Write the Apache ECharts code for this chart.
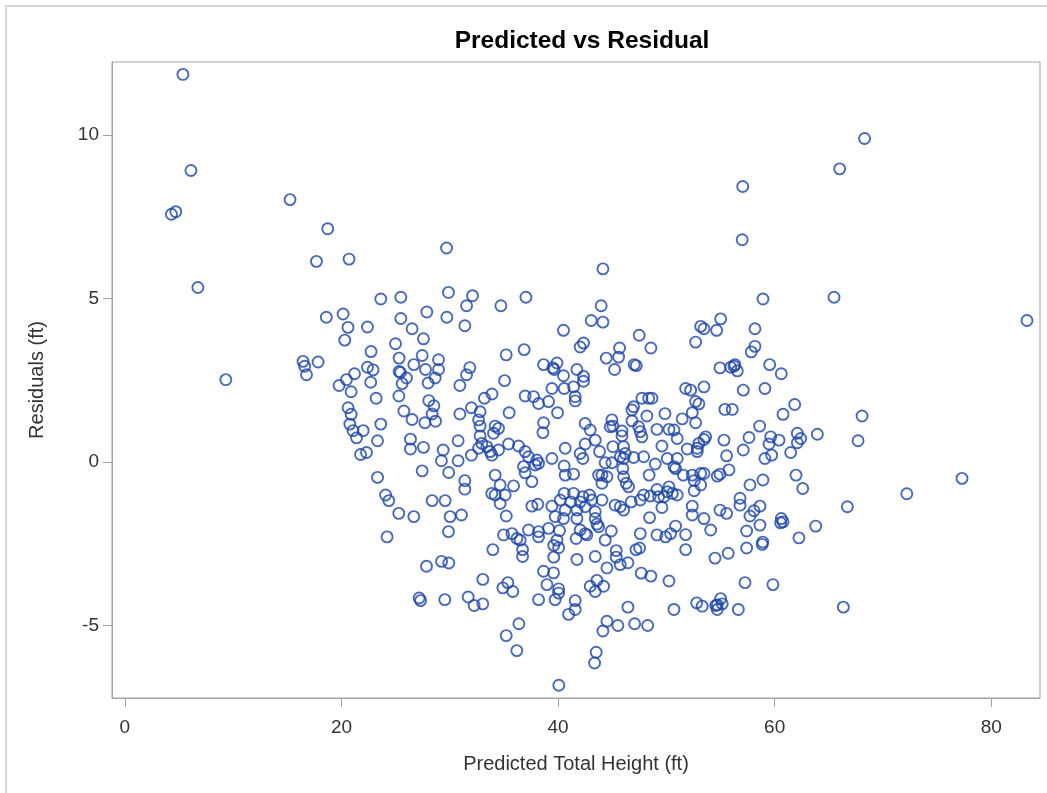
<!DOCTYPE html>
<html>
<head>
<meta charset="utf-8">
<script src="https://cdn.jsdelivr.net/npm/echarts@6/dist/echarts.min.js"></script>
<style>
html,body{margin:0;padding:0;background:#fff;}
#chart{width:1047px;height:793px;}
</style>
</head>
<body>
<div id="chart"></div>
<script>
const titleText = 'Predicted vs Residual';
const xAxisName = 'Predicted Total Height (ft)';
const yAxisName = 'Residuals (ft)';
const xTicks = [0, 20, 40, 60, 80];
const yTicks = [-5, 0, 5, 10];

// [predicted total height, residual]
const pointsLeft = [
 [5.36,11.86],[6.1,8.92],[4.3,7.58],[4.7,7.66],[6.74,5.34],[9.32,2.52],[15.25,8.03],[18.73,7.14],[17.69,6.14],[20.70,6.21],[29.7,6.55]
];
const pointsA = [
 [23.63,4.99],[25.48,5.04],[29.88,5.19],[32.1,5.09],[31.55,4.78],[18.6,4.43],[20.15,4.53],[20.6,4.12],[22.4,4.13],[20.3,3.73],
 [25.48,4.39],[27.88,4.59],[29.73,4.43],[31.39,4.17],[26.52,4.08],[27.57,3.77],[24.99,3.62],[22.73,3.38],[25.32,3.18],[27.45,3.26],
 [28.96,3.13],[26.68,2.98],[16.45,3.08],[16.6,2.93],[16.77,2.67],[17.84,3.06],[22.4,2.9],[22.92,2.82],[25.32,2.77],[25.45,2.74],
 [27.76,2.83],[28.96,2.83],[31.85,2.89],[31.55,2.67],[21.2,2.70],[20.46,2.52],[19.78,2.34],[22.7,2.44],[26.0,2.57],[25.6,2.40],
 [28.65,2.57],[28.0,2.42],[30.93,2.34]
];
const pointsB = [
 [20.89,2.15],[23.2,1.95],[25.3,2.02],[20.61,1.66],[20.89,1.46],[20.77,1.16],[21.07,0.96],[21.39,0.74],[22.0,0.96],[23.63,1.16],
 [23.33,0.65],[21.76,0.23],[22.31,0.29],[25.76,1.56],[26.52,1.30],[28.06,1.88],[28.53,1.72],[28.37,1.47],[27.7,1.20],[28.68,1.25],
 [30.93,1.47],[32.0,1.66],[26.37,0.70],[26.37,0.40],[27.57,0.45],[30.77,0.65],[29.39,0.37],[29.23,0.04],[30.77,0.04],[32.0,0.21],
 [27.45,-0.27],[29.9,-0.32],[23.33,-0.47],[31.39,-0.57],[31.39,-0.83],[24.07,-1.01],[24.37,-1.18],[28.37,-1.18],[29.57,-1.18],[25.29,-1.57],
 [26.68,-1.67],[30.03,-1.67],[31.08,-1.62],[24.21,-2.29],[29.88,-2.13],
 [27.85,-3.19],[29.24,-3.04],[29.91,-3.09],[27.17,-4.16],[27.3,-4.24],[29.54,-4.21],[31.7,-4.13],[32.25,-4.39]
];
const pointsC = [
 [33.98,-2.68],[36.72,-2.68],[36.72,-2.89],[39.6,-2.55],[40.05,-2.62],[39.6,-2.91],[41.74,-2.98],[43.43,-2.89],[45.37,-2.71],[45.37,-2.91],
 [45.74,-3.14],[46.45,-3.08],[47.19,-2.68],[47.53,-2.63],[44.51,-3.24],[47.68,-3.40],[48.57,-3.49],[33.05,-3.59],[34.9,-3.85],[35.36,-3.69],
 [35.82,-3.96],[33.05,-4.34],[38.66,-3.34],[39.58,-3.39],[38.97,-3.75],[40.05,-3.88],[40.05,-4.01],[38.2,-4.21],[39.73,-4.21],[41.58,-4.24],
 [41.58,-4.51],[40.97,-4.66],[42.97,-3.80],[43.59,-3.62],[44.2,-3.80],[43.43,-3.96],[46.45,-4.44],[44.51,-4.87],[44.14,-5.17],[45.52,-5.0],
 [47.07,-4.95],[48.27,-5.0],[36.38,-4.95],[35.21,-5.31],[36.19,-5.77],[43.52,-5.82],[43.37,-6.15],[40.07,-6.83],
 [51.78,-2.68],[54.49,-2.94],[55.71,-2.79],[50.24,-3.64],[57.26,-3.69],[59.84,-3.75],[50.7,-4.51],[52.8,-4.31],[53.31,-4.41],[55.01,-4.18],
 [54.7,-4.37],[55.16,-4.34],[54.7,-4.51],[54.55,-4.39],[56.64,-4.51],[66.34,-4.44],[57.41,-2.63]
];
const pointsD = [
 [34.72,4.78],[37.03,5.04],[44.14,5.91],[43.98,4.78],[43.06,4.33],[44.14,4.28],[40.5,4.03],[47.49,3.88],[48.57,3.49],[42.35,3.64],
 [42.04,3.52],[45.68,3.49],[44.45,3.18],[45.59,3.21],[47.03,2.98],[47.22,2.95],[45.22,2.83],[35.21,3.28],[36.87,3.44],[35.06,2.49],
 [38.66,2.98],[39.9,3.03],[39.52,2.88],[39.64,2.83],[40.5,2.64],[41.74,2.83],[42.35,2.62],[42.35,2.47],
 [57.0,6.80],[58.92,4.99],[65.48,5.04],[55.01,4.38],[53.17,4.15],[53.47,4.08],[54.64,4.03],[58.18,4.08],[52.7,3.67],[58.18,3.54],
 [57.84,3.37],[54.95,2.88],[55.94,2.9],[56.33,2.98],[56.55,2.79],[56.24,2.93],[59.54,2.98],[60.61,2.70],
 [57.05,8.43],[66.0,8.97],[68.3,9.9]
];
const pointsE = [
 [51.78,2.25],[52.24,2.20],[53.47,2.3],[57.1,2.20],[59.1,2.25],[52.7,1.85],[53.0,1.78],[55.4,1.61],[56.08,1.61],[60.77,1.46],
 [61.85,1.76],[49.87,1.48],[52.39,1.51],[51.46,1.32],[52.7,1.20],[50.24,1.0],[50.7,0.98],[51.0,0.72],[53.63,0.77],[53.47,0.69],
 [53.0,0.57],[55.32,0.67],[57.63,0.75],[58.61,1.10],[59.63,0.77],[60.4,0.67],[59.48,0.55],[62.09,0.88],[62.4,0.72],[62.09,0.59],
 [63.94,0.85],[61.48,0.29],[59.72,0.21],[59.1,0.11],[57.1,0.37],[55.56,0.19],[51.93,0.40],[52.85,0.42],[52.85,0.32],[50.08,0.11],
 [51.0,0.11],[50.7,-0.14],[50.85,-0.20],[51.56,-0.40],[52.39,-0.40],[53.17,-0.35],[53.47,-0.35],[52.57,-0.57],[54.7,-0.43],[54.95,-0.37],
 [55.78,-0.24],[57.72,-0.70],[58.92,-0.55],[61.97,-0.40],[62.59,-0.81],[66.71,-1.37],[50.24,-0.76],[50.55,-0.96],[51.0,-1.01],[49.78,-1.06],
 [50.08,-0.91],[52.57,-0.88],[53.17,-0.70],[52.39,-1.35],[52.39,-1.62],[53.47,-1.73],[54.09,-2.08],[54.95,-1.47],[55.56,-1.57],[56.8,-1.11],
 [56.8,-1.32],[57.72,-1.65],[58.09,-1.49],[58.64,-1.35],[58.64,-1.93],[57.41,-2.11],[60.61,-1.73],[60.77,-1.83],[60.55,-1.86],[63.79,-1.96],
 [62.24,-2.32],[50.85,-1.96],[50.39,-2.19],[51.78,-2.22],[49.93,-2.29],[58.9,-2.45],[58.85,-2.52]
];
const pointsF = [
 [33.2,1.95],[33.9,2.08],[36.96,2.02],[37.74,2.0],[38.2,1.79],[39.12,1.85],[39.43,2.25],[40.56,2.25],[41.43,2.3],[41.58,2.0],
 [41.58,1.87],[47.74,1.95],[48.36,1.95],[48.67,1.95],[46.97,1.69],[46.82,1.59],[48.2,1.41],[32.8,1.54],[32.66,1.29],[35.48,1.51],
 [39.95,1.51],[38.66,1.20],[38.6,0.90],[32.8,1.10],[34.19,1.10],[34.5,1.03],[34.04,0.88],[42.5,1.18],[42.97,0.98],[44.97,1.29],
 [45.06,1.10],[44.81,1.08],[45.9,0.95],[45.9,0.80],[46.82,1.26],[47.44,1.08],[47.59,0.93],[47.74,0.77],[49.13,1.0],[49.59,0.49],
 [32.8,0.80],[32.96,0.57],[32.66,0.42],[33.42,0.47],[33.73,0.32],[33.88,0.21],[34.5,0.37],[35.43,0.55],[36.35,0.49],[36.96,0.32],
 [37.27,0.16],[38.04,0.06],[38.2,-0.04],[37.89,-0.09],[36.81,-0.14],[36.96,-0.33],[39.43,0.11],[40.66,0.42],[40.56,-0.12],[41.43,-0.37],
 [40.66,-0.40],[42.04,0.26],[42.29,0.11],[42.5,0.55],[43.43,0.67],[43.83,0.32],[44.35,-0.02],[44.97,-0.02],[45.06,0.47],[46.05,0.47],
 [46.2,0.26],[45.74,0.16],[46.05,0.11],[46.97,0.14],[47.9,0.16],[48.97,-0.06],[45.98,-0.20],[46.05,-0.45],[46.29,-0.65],[48.41,-0.40],
 [43.74,-0.40],[44.05,-0.40],[44.51,-0.45],[44.05,-0.65],[46.51,-0.76],[49.13,-0.84],[34.19,-0.40],[35.89,-0.73],[34.65,-0.70],[33.88,-0.96],
 [34.19,-1.01],[35.11,-1.01],[34.65,-1.27],[37.58,-0.60],[35.21,-1.65],[37.58,-1.35],[38.13,-1.29],[39.43,-1.35],[40.2,-1.16],[40.56,-0.96],
 [41.43,-0.96],[39.73,-1.67],[40.5,-1.73],[40.66,-1.47],[41.18,-1.22],[42.04,-1.22],[41.74,-1.47],[42.29,-1.06],[42.9,-1.01],[43.12,-1.16],
 [42.5,-1.37],[43.43,-1.52],[43.43,-1.73],[44.05,-1.16],[41.74,-1.73],[45.27,-1.32],[45.74,-1.37],[46.05,-1.47],[46.76,-1.22],[47.59,-1.16],
 [47.9,-1.01],[48.51,-1.04],[49.28,-1.06],[48.45,-1.70],[49.59,-1.39],[43.59,-1.90],[43.74,-1.98],[44.91,-2.11],[47.59,-2.19],[49.13,-2.23],
 [42.04,-2.08],[42.5,-2.19],[42.66,-2.23],[39.12,-2.03],[40.13,-2.10],[37.27,-2.08],[38.2,-2.13],[38.2,-2.29],[34.97,-2.23],[35.74,-2.19],
 [36.2,-2.34],[36.5,-2.39],[39.9,-2.39],[41.67,-2.34],[44.35,-2.39]
];
const pointsRight = [
 [83.3,4.33],[77.3,-0.5],[72.2,-0.97],[68.07,1.41],[67.7,0.65]
];

const allPoints = [].concat(pointsLeft, pointsA, pointsB, pointsC, pointsD, pointsE, pointsF, pointsRight);

const chart = echarts.init(document.getElementById('chart'), null, {renderer: 'canvas'});
const FONT = '"Liberation Sans", Arial, sans-serif';
const axisColor = '#a3a3a3';
chart.setOption({
  animation: false,
  backgroundColor: '#fff',
  title: {
    text: titleText, left: 577, top: 24, textAlign: 'center',
    textStyle: {fontFamily: FONT, fontSize: 24.5, fontWeight: 'bold', color: '#000'}
  },
  graphic: [{
    type: 'rect', silent: true,
    shape: {x: 6, y: 6, width: 1100, height: 900},
    style: {fill: 'none', stroke: '#d6d6d6', lineWidth: 2}
  }],
  grid: {left: 112, right: 7, top: 62, bottom: 95, show: true, borderColor: axisColor, borderWidth: 1},
  xAxis: {
    type: 'value', min: -1.19, max: 84.5,
    name: xAxisName, nameLocation: 'middle', nameGap: 56,
    nameTextStyle: {fontFamily: FONT, fontSize: 20, color: '#333'},
    axisLine: {show: true, onZero: false, lineStyle: {color: axisColor}},
    axisTick: {show: true, inside: false, customValues: xTicks, length: 9, lineStyle: {color: axisColor}},
    axisLabel: {customValues: xTicks, margin: 20, fontFamily: FONT, fontSize: 19, color: '#333'},
    splitLine: {show: false}
  },
  yAxis: {
    type: 'value', min: -7.22, max: 12.24,
    name: yAxisName, nameLocation: 'middle', nameGap: 65,
    nameTextStyle: {fontFamily: FONT, fontSize: 20, color: '#333'},
    axisLine: {show: true, onZero: false, lineStyle: {color: axisColor}},
    axisTick: {show: true, inside: false, customValues: yTicks, length: 9, lineStyle: {color: axisColor}},
    axisLabel: {customValues: yTicks, margin: 13, fontFamily: FONT, fontSize: 19, color: '#333'},
    splitLine: {show: false}
  },
  series: [{
    type: 'scatter',
    data: allPoints,
    symbol: 'circle',
    symbolSize: 11,
    itemStyle: {color: 'rgba(0,0,0,0)', borderColor: '#1d45a6', borderWidth: 1.9}
  }]
});
</script>
</body>
</html>
